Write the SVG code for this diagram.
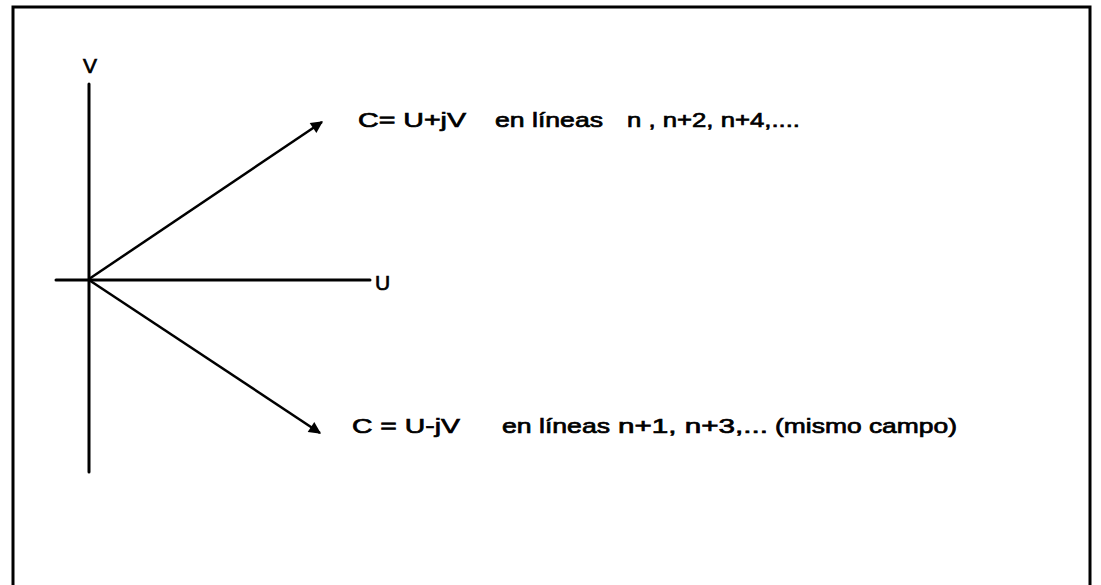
<svg xmlns="http://www.w3.org/2000/svg" width="1101" height="585" viewBox="0 0 1101 585">
<style>
.ax{stroke:#000;stroke-width:3;fill:none;stroke-linecap:round}
.vec{stroke:#000;stroke-width:2.5;fill:none}
.t{font-family:"Liberation Sans",Arial,sans-serif;font-size:21px;fill:#000;stroke:#000;stroke-width:0.7}
</style>
<defs>
<marker id="ah2" viewBox="0 0 10 10" refX="9" refY="5" markerWidth="14" markerHeight="12" orient="auto" markerUnits="userSpaceOnUse">
<path d="M0,0 L10,5 L0,10 z" fill="#000"/>
</marker>
</defs>
<rect x="0" y="0" width="1101" height="585" fill="#fff"/>
<path d="M13,590 L13,7 L1090,7 L1090,590" stroke="#000" stroke-width="3" fill="none"/>
<g id="connectors">
<line class="ax" x1="89" y1="84" x2="89" y2="472"/>
<line class="ax" x1="56" y1="280" x2="370" y2="280"/>
<line class="vec" x1="89" y1="279" x2="322" y2="122" marker-end="url(#ah2)"/>
<line class="vec" x1="89" y1="280" x2="320" y2="433" marker-end="url(#ah2)" stroke-width="2"/>
</g>
<g id="axis-v"><text class="t" x="83" y="73" textLength="14" lengthAdjust="spacingAndGlyphs">V</text></g>
<g id="axis-u"><text class="t" x="375" y="290">U</text></g>
<g id="label-top">
<text class="t" x="358" y="127" textLength="108" lengthAdjust="spacingAndGlyphs">C= U+jV</text>
<text class="t" x="495" y="127" textLength="108" lengthAdjust="spacingAndGlyphs">en líneas</text>
<text class="t" x="627" y="127" textLength="173" lengthAdjust="spacingAndGlyphs">n , n+2, n+4,....</text>
</g>
<g id="label-bottom">
<text class="t" x="352" y="433" textLength="108" lengthAdjust="spacingAndGlyphs">C = U-jV</text>
<text class="t" x="502" y="433" textLength="108" lengthAdjust="spacingAndGlyphs">en líneas</text>
<text class="t" x="618" y="433" textLength="150" lengthAdjust="spacingAndGlyphs">n+1, n+3,...</text>
<text class="t" x="775" y="433" textLength="182" lengthAdjust="spacingAndGlyphs">(mismo campo)</text>
</g>
</svg>
